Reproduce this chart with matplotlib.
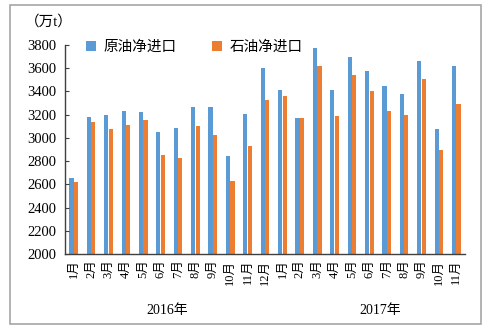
import numpy as np
import matplotlib
matplotlib.use("Agg")
import matplotlib.pyplot as plt
from matplotlib.patches import Rectangle

plt.rcParams['font.family'] = ['Liberation Serif', 'Noto Sans CJK SC']

months = ["1月", "2月", "3月", "4月", "5月", "6月", "7月", "8月", "9月", "10月", "11月", "12月",
          "1月", "2月", "3月", "4月", "5月", "6月", "7月", "8月", "9月", "10月", "11月"]
crude_net = [2655, 3180, 3195, 3230, 3220, 3050, 3085, 3265, 3265, 2845, 3210, 3605,
             3410, 3170, 3775, 3410, 3700, 3580, 3450, 3375, 3660, 3075, 3620]
oil_net = [2620, 3135, 3075, 3115, 3150, 2855, 2830, 3100, 3025, 2625, 2930, 3330,
           3360, 3170, 3615, 3185, 3545, 3400, 3230, 3200, 3505, 2895, 3295]
years = ["2016年", "2017年"]
yticks = list(range(2000, 3801, 200))

blue = "#5B9BD5"
orange = "#ED7D31"

fig = plt.figure(figsize=(4.88, 3.29), dpi=100)
# outer frame
fig.patches.append(Rectangle((10 / 488, 5 / 329), 471 / 488, 319 / 329,
                             transform=fig.transFigure, fill=False,
                             edgecolor="#a6a6a6", lw=1.2))

ax = fig.add_axes([65 / 488, 75 / 329, 400 / 488, 209 / 329])
x = np.arange(len(months))
w = 0.24
ax.bar(x - 0.13, crude_net, w, color=blue, label="原油净进口")
ax.bar(x + 0.13, oil_net, w, color=orange, label="石油净进口")

ax.set_xlim(-0.5, len(months) - 0.5)
ax.set_ylim(2000, 3800)
ax.set_yticks(yticks)
ax.tick_params(axis='y', direction='in', length=3, labelsize=10.5, pad=6, color="#404040")
ax.set_xticks(x)
ax.set_xticklabels(months, rotation=90, fontsize=9)
ax.tick_params(axis='x', length=0, pad=4)
for s in ["top", "right"]:
    ax.spines[s].set_visible(False)
for s in ["left", "bottom"]:
    ax.spines[s].set_color("#404040")
    ax.spines[s].set_linewidth(1.0)

ax.legend(loc="upper left", ncol=2, frameon=False, fontsize=10.5,
          bbox_to_anchor=(0.02, 1.085), handlelength=0.7, handleheight=0.7,
          handletextpad=0.5, columnspacing=2.4)

fig.text(25 / 488, 1 - 22 / 329, "（万t）", fontsize=10.5, va="center", ha="left")
ax.text(5.4, -0.27, years[0], transform=ax.get_xaxis_transform(), ha="center",
        va="center", fontsize=10)
ax.text(17.6, -0.27, years[1], transform=ax.get_xaxis_transform(), ha="center",
        va="center", fontsize=10)

fig.savefig("out.png", dpi=100)
